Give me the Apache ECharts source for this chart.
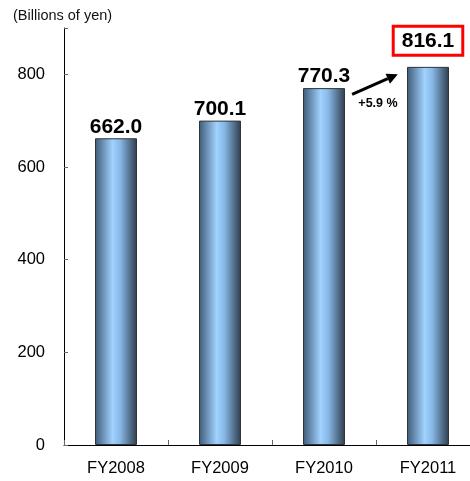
<!DOCTYPE html>
<html><head><meta charset="utf-8">
<script src="https://cdn.jsdelivr.net/npm/echarts@6/dist/echarts.min.js"></script>
<style>html,body{margin:0;padding:0;background:#fff;overflow:hidden}#c{width:470px;height:481px}</style>
</head><body><div id="c"></div>
<script>
const categories = ['FY2008', 'FY2009', 'FY2010', 'FY2011'];
const values = [662.0, 700.1, 770.3, 816.1];
const yTicks = [0, 200, 400, 600, 800];
const unitLabel = '(Billions of yen)';
const growthLabel = '+5.9 %';

const FONT = 'Arial, "Liberation Sans", sans-serif';
const chart = echarts.init(document.getElementById('c'));
const barGrad = new echarts.graphic.LinearGradient(0, 0, 1, 0, [
  {offset: 0, color: '#3f5a78'},
  {offset: 0.42, color: '#a0d2ff'},
  {offset: 0.6, color: '#88b8e6'},
  {offset: 1, color: '#2e3d4e'}
]);
const data = values.map((v, i) => {
  const d = {value: v};
  if (i === values.length - 1) {
    d.label = {
      distance: 13,
      backgroundColor: '#fff',
      borderColor: '#ff0000',
      borderWidth: 3,
      padding: [3, 7, 2, 7],
      fontSize: 21
    };
  }
  return d;
});
chart.setOption({
  animation: false,
  grid: {left: 64, right: -10, top: 28, bottom: 36, outerBoundsMode: 'none', containLabel: false},
  title: {text: unitLabel, left: 8, top: 3,
    textStyle: {fontFamily: FONT, fontSize: 14.5, fontWeight: 'normal', color: '#111'}},
  xAxis: {
    type: 'category', data: categories,
    axisLine: {lineStyle: {color: '#000', width: 1}},
    axisTick: {show: true, inside: true, length: 5, lineStyle: {color: '#666'}},
    axisLabel: {color: '#000', fontFamily: FONT, fontSize: 16.5, margin: 15}
  },
  yAxis: {
    type: 'value', min: 0, max: 900, interval: 200,
    axisLine: {show: true, lineStyle: {color: '#000', width: 1}},
    axisTick: {show: true, inside: true, length: 4, lineStyle: {color: '#666'}},
    splitLine: {show: false},
    axisLabel: {color: '#000', fontFamily: FONT, fontSize: 16.5, margin: 19,
      formatter: v => yTicks.includes(v) ? String(v) : ''}
  },
  series: [{
    type: 'bar', data: data, barWidth: 42,
    itemStyle: {color: barGrad, borderColor: '#333', borderWidth: 1},
    label: {show: true, position: 'top', distance: 1, color: '#000',
      fontFamily: FONT, fontWeight: 'bold', fontSize: 21,
      formatter: p => p.value.toFixed(1)}
  }]
});
// arrow annotation between FY2010 and FY2011, positioned via axes
const p2 = chart.convertToPixel({gridIndex: 0}, [2, 0]);
const p3 = chart.convertToPixel({gridIndex: 0}, [3, 0]);
const mid = (p2[0] + p3[0]) / 2, step = p3[0] - p2[0];
const yA = chart.convertToPixel({gridIndex: 0}, [0, 757])[1];
const yB = chart.convertToPixel({gridIndex: 0}, [0, 800])[1];
const yT = chart.convertToPixel({gridIndex: 0}, [0, 737])[1];
const x1 = mid - step * 0.23, x2 = mid + step * 0.21;
const ang = Math.atan2(yB - yA, x2 - x1);
const hl = 11, hw = 5.5;
const bx = x2 - hl * Math.cos(ang), by = yB - hl * Math.sin(ang);
const nx = -Math.sin(ang), ny = Math.cos(ang);
chart.setOption({
  graphic: [
    {type: 'line', shape: {x1: x1, y1: yA, x2: bx, y2: by},
      style: {stroke: '#000', lineWidth: 3}},
    {type: 'polygon', shape: {points: [[x2, yB], [bx + nx * hw, by + ny * hw], [bx - nx * hw, by - ny * hw]]},
      style: {fill: '#000'}},
    {type: 'text', x: mid + 2, y: yT, style: {text: growthLabel, fill: '#000',
      font: 'bold 12.5px ' + FONT, textAlign: 'center', textVerticalAlign: 'middle'}}
  ]
});
</script></body></html>
